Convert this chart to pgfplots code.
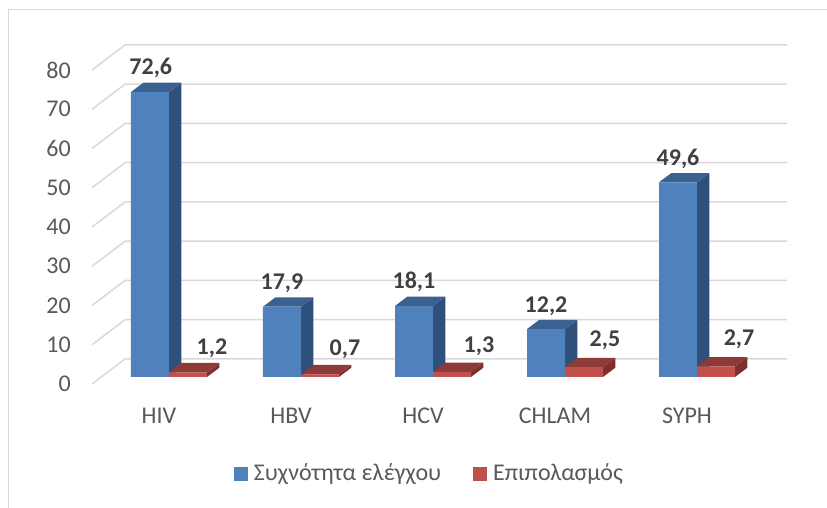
\documentclass[border=0pt]{standalone}
\usepackage{pgfplots}
\usepackage{pgfplotstable}
\usepackage{fontspec}
\setmainfont{Carlito}
\pgfplotsset{compat=1.18}
\definecolor{gridc}{HTML}{D9D9D9}
\definecolor{blueF}{HTML}{4F81BD}
\definecolor{blueS}{HTML}{30507C}
\definecolor{blueT}{HTML}{3A618F}
\definecolor{redF}{HTML}{C0504D}
\definecolor{redS}{HTML}{7F2F2D}
\definecolor{redT}{HTML}{8E3A38}
\definecolor{txt}{HTML}{595959}
\definecolor{lab}{HTML}{404040}
\pgfplotstableread{
x y dx dy
0 72.6 -18.2 17.5
1 17.9 -19 17
2 18.1 -19 17
3 12.2 -19 17
4 49.6 -19 17
}\bluedata
\pgfplotstableread{
x y dx dy
0 1.2 43 17.5
1 0.7 44 18.5
2 1.3 46 19.5
3 2.5 40 20.5
4 2.7 42 20.5
}\reddata
\begin{document}
\begin{tikzpicture}[x=1pt,y=1pt]
\path[use as bounding box,fill=white] (0,0) rectangle (827,508);
\draw[gridc,line width=1.5pt] (8.7,0) -- (8.7,498.5) -- (827,498.5);
\begin{axis}[
  at={(92pt,124pt)},anchor=south west,
  x=132pt,y=3.925pt,
  xmin=-0.5833,xmax=4.6818,ymin=-1.783,ymax=84.6,
  clip=false,
  axis line style={draw=none},
  major tick length=0pt,
  ytick={0,10,...,80},
  xtick={0,1,2,3,4},
  xticklabels={HIV,HBV,HCV,CHLAM,SYPH},
  tick label style={font=\fontsize{24}{24}\selectfont,text=txt,inner sep=0pt},
  yticklabel style={anchor=east,xshift=-21pt,yshift=-7pt},
  xticklabel style={anchor=base,xshift=-10pt,yshift=-39.5pt},
  /pgf/number format/assume math mode=true,
  /pgf/number format/1000 sep={},
  legend style={at={(axis cs:0.4924,-24.46)},anchor=west,draw=none,fill=none,
    inner sep=0pt,outer sep=0pt,
    font=\fontsize{24}{24}\selectfont,text=txt,legend columns=2,
    /tikz/every even column/.style={column sep=32pt},
    /tikz/every odd column/.style={column sep=6pt},
    nodes={inner sep=0pt,anchor=base west}},
  legend cell align=left,
  legend image code/.code={\fill[#1] (0pt,0pt) rectangle (14pt,14pt);},
]
% grid
\addplot[gridc,line width=1.5pt,forget plot] coordinates {(-0.5833,-1.783)(-0.3333,4.587)(4.6818,4.587)};
\addplot[gridc,line width=1.5pt,forget plot] coordinates {(-0.5833,8.217)(-0.3333,14.587)(4.6818,14.587)};
\addplot[gridc,line width=1.5pt,forget plot] coordinates {(-0.5833,18.217)(-0.3333,24.587)(4.6818,24.587)};
\addplot[gridc,line width=1.5pt,forget plot] coordinates {(-0.5833,28.217)(-0.3333,34.587)(4.6818,34.587)};
\addplot[gridc,line width=1.5pt,forget plot] coordinates {(-0.5833,38.217)(-0.3333,44.587)(4.6818,44.587)};
\addplot[gridc,line width=1.5pt,forget plot] coordinates {(-0.5833,48.217)(-0.3333,54.587)(4.6818,54.587)};
\addplot[gridc,line width=1.5pt,forget plot] coordinates {(-0.5833,58.217)(-0.3333,64.587)(4.6818,64.587)};
\addplot[gridc,line width=1.5pt,forget plot] coordinates {(-0.5833,68.217)(-0.3333,74.587)(4.6818,74.587)};
\addplot[gridc,line width=1.5pt,forget plot] coordinates {(-0.5833,78.217)(-0.3333,84.587)(4.6818,84.587)};
% blue side faces
\addplot[fill=blueS,draw=none,forget plot] coordinates {(0,0)(0.0932,2.37)(0.0932,74.97)(0,72.6)} -- cycle;
\addplot[fill=blueS,draw=none,forget plot] coordinates {(1,0)(1.0932,2.37)(1.0932,20.27)(1,17.9)} -- cycle;
\addplot[fill=blueS,draw=none,forget plot] coordinates {(2,0)(2.0932,2.37)(2.0932,20.47)(2,18.1)} -- cycle;
\addplot[fill=blueS,draw=none,forget plot] coordinates {(3,0)(3.0932,2.37)(3.0932,14.57)(3,12.2)} -- cycle;
\addplot[fill=blueS,draw=none,forget plot] coordinates {(4,0)(4.0932,2.37)(4.0932,51.97)(4,49.6)} -- cycle;
% blue top faces
\addplot[fill=blueT,draw=none,forget plot] coordinates {(-0.2879,72.6)(-0.1947,74.97)(0.0932,74.97)(0,72.6)} -- cycle;
\addplot[fill=blueT,draw=none,forget plot] coordinates {(0.7121,17.9)(0.8053,20.27)(1.0932,20.27)(1,17.9)} -- cycle;
\addplot[fill=blueT,draw=none,forget plot] coordinates {(1.7121,18.1)(1.8053,20.47)(2.0932,20.47)(2,18.1)} -- cycle;
\addplot[fill=blueT,draw=none,forget plot] coordinates {(2.7121,12.2)(2.8053,14.57)(3.0932,14.57)(3,12.2)} -- cycle;
\addplot[fill=blueT,draw=none,forget plot] coordinates {(3.7121,49.6)(3.8053,51.97)(4.0932,51.97)(4,49.6)} -- cycle;
% red side faces
\addplot[fill=redS,draw=none,forget plot] coordinates {(0.2879,0)(0.3811,2.37)(0.3811,3.57)(0.2879,1.2)} -- cycle;
\addplot[fill=redS,draw=none,forget plot] coordinates {(1.2879,0)(1.3811,2.37)(1.3811,3.07)(1.2879,0.7)} -- cycle;
\addplot[fill=redS,draw=none,forget plot] coordinates {(2.2879,0)(2.3811,2.37)(2.3811,3.67)(2.2879,1.3)} -- cycle;
\addplot[fill=redS,draw=none,forget plot] coordinates {(3.2879,0)(3.3811,2.37)(3.3811,4.87)(3.2879,2.5)} -- cycle;
\addplot[fill=redS,draw=none,forget plot] coordinates {(4.2879,0)(4.3811,2.37)(4.3811,5.07)(4.2879,2.7)} -- cycle;
% red top faces
\addplot[fill=redT,draw=none,forget plot] coordinates {(0,1.2)(0.0932,3.57)(0.3811,3.57)(0.2879,1.2)} -- cycle;
\addplot[fill=redT,draw=none,forget plot] coordinates {(1,0.7)(1.0932,3.07)(1.3811,3.07)(1.2879,0.7)} -- cycle;
\addplot[fill=redT,draw=none,forget plot] coordinates {(2,1.3)(2.0932,3.67)(2.3811,3.67)(2.2879,1.3)} -- cycle;
\addplot[fill=redT,draw=none,forget plot] coordinates {(3,2.5)(3.0932,4.87)(3.3811,4.87)(3.2879,2.5)} -- cycle;
\addplot[fill=redT,draw=none,forget plot] coordinates {(4,2.7)(4.0932,5.07)(4.3811,5.07)(4.2879,2.7)} -- cycle;
% front faces with labels
\addplot[ybar,bar width=38pt,bar shift=-19pt,fill=blueF,draw=none,
  point meta=y,
  visualization depends on={\thisrow{dx} \as \ldx},
  visualization depends on={\thisrow{dy} \as \ldy},
  nodes near coords,
  nodes near coords style={anchor=base,inner sep=0pt,xshift=\ldx pt,yshift=\ldy pt,
    font=\fontsize{24}{24}\selectfont\bfseries,text=lab,
    /pgf/number format/.cd,fixed,fixed zerofill,precision=1,use comma,assume math mode=true},
] table[x=x,y=y] {\bluedata};
\addlegendentry{Συχνότητα ελέγχου}
\addplot[ybar,bar width=38pt,bar shift=19pt,fill=redF,draw=none,
  point meta=y,
  visualization depends on={\thisrow{dx} \as \ldx},
  visualization depends on={\thisrow{dy} \as \ldy},
  nodes near coords,
  nodes near coords style={anchor=base,inner sep=0pt,xshift=\ldx pt,yshift=\ldy pt,
    font=\fontsize{24}{24}\selectfont\bfseries,text=lab,
    /pgf/number format/.cd,fixed,fixed zerofill,precision=1,use comma,assume math mode=true},
] table[x=x,y=y] {\reddata};
\addlegendentry{Επιπολασμός}
\end{axis}
\end{tikzpicture}
\end{document}
